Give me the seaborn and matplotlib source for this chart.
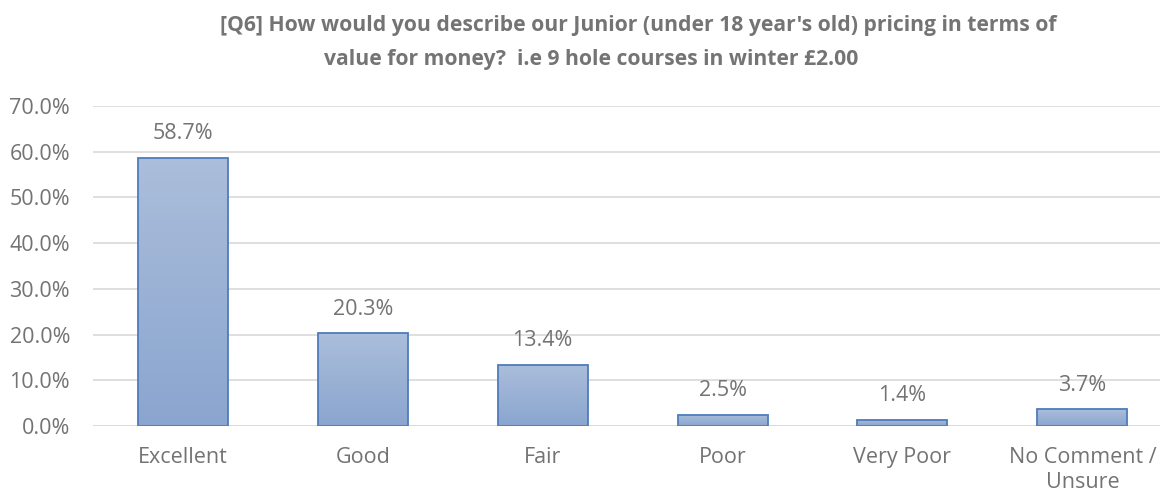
import numpy as np
import pandas as pd
import seaborn as sns
import matplotlib.pyplot as plt
from matplotlib.ticker import FuncFormatter

categories = ["Excellent", "Good", "Fair", "Poor", "Very Poor", "No Comment /\nUnsure"]
shares = [0.587, 0.203, 0.134, 0.025, 0.014, 0.037]
title_lines = [
    "[Q6] How would you describe our Junior (under 18 year's old) pricing in terms of",
    "value for money?  i.e 9 hole courses in winter \u00a32.00",
]

TEXT_COLOR = "#747474"
LABEL_COLOR = "#737373"
GRID_COLOR = "#d9d9d9"
EDGE_COLOR = "#4f7cba"
TOP_COLOR = "#abbedb"
BOTTOM_COLOR = "#8aa5cf"

sns.set_theme(style="white")
plt.rcParams["font.family"] = ["Open Sans", "DejaVu Sans"]

df = pd.DataFrame({"category": categories, "share": shares})

fig = plt.figure(figsize=(11.62, 4.93), dpi=100)
ax = fig.add_axes([0.080, 0.136, 0.918, 0.649])

sns.barplot(data=df, x="category", y="share", width=0.5, color=BOTTOM_COLOR,
            edgecolor=EDGE_COLOR, linewidth=1.3, ax=ax, zorder=3)

# gradient fill on each bar
grad = np.linspace(0, 1, 256).reshape(-1, 1)
cmap = sns.blend_palette([BOTTOM_COLOR, TOP_COLOR], as_cmap=True)
for bar in ax.patches:
    x0, y0 = bar.get_x(), bar.get_y()
    w, h = bar.get_width(), bar.get_height()
    im = ax.imshow(grad, extent=[x0, x0 + w, y0, y0 + h], origin="lower",
                   cmap=cmap, aspect="auto", zorder=3.5)
    im.set_clip_path(bar)
    bar.set_facecolor("none")
    bar.set_zorder(4)

for i, v in enumerate(shares):
    ax.text(i, v + 0.052, f"{v * 100:.1f}%", ha="center", va="center",
            fontsize=15.5, color=LABEL_COLOR)

ax.set_xlim(-0.5, 5.43)
ax.set_ylim(0, 0.7)
ax.set_yticks(np.arange(0, 0.71, 0.1))
ax.yaxis.set_major_formatter(FuncFormatter(lambda v, p: f"{v * 100:.1f}%"))
ax.yaxis.grid(True, color=GRID_COLOR, linewidth=1.2, zorder=0)
ax.set_axisbelow(True)
ax.set_xlabel("")
ax.set_ylabel("")
for s in ax.spines.values():
    s.set_visible(False)
ax.axhline(0, color=GRID_COLOR, linewidth=1.2, zorder=2)
ax.tick_params(axis="both", length=0, labelsize=15.5, colors=LABEL_COLOR)
ax.tick_params(axis="x", pad=15.5)
ax.tick_params(axis="y", pad=16.5)
for lab in ax.get_xticklabels():
    lab.set_linespacing(1.22)
    lab.set_verticalalignment("top")

fig.text(638 / 1162, 1 - 26 / 493, title_lines[0], ha="center", va="center",
         fontsize=15.2, fontweight="bold", color=TEXT_COLOR)
fig.text(591 / 1162, 1 - 59 / 493, title_lines[1], ha="center", va="center",
         fontsize=15.2, fontweight="bold", color=TEXT_COLOR)

fig.savefig("out.png", dpi=100)
